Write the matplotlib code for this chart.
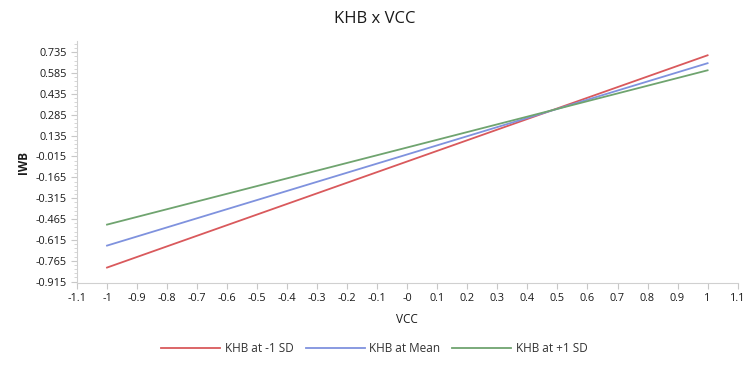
import numpy as np
import matplotlib.pyplot as plt
from matplotlib.ticker import FixedLocator

plt.rcParams['font.family'] = ['Open Sans', 'DejaVu Sans']

# Data (simple slopes of IWB on VCC)
vcc = np.array([-1.0, 1.0])
iwb_low = np.array([-0.814, 0.713])
iwb_mean = np.array([-0.656, 0.656])
iwb_high = np.array([-0.505, 0.605])
labels = ["KHB at -1 SD", "KHB at Mean", "KHB at +1 SD"]
colors = ["#d9595c", "#7f92de", "#6fa46f"]

xticks = np.round(np.arange(-1.1, 1.1001, 0.1), 1)
yticks = np.round(np.arange(-0.915, 0.7351, 0.15), 3)

fig = plt.figure(figsize=(7.49, 3.71), dpi=100)
ax = fig.add_axes([0.1028, 0.2372, 0.882, 0.652])

for y, lab, c in zip([iwb_low, iwb_mean, iwb_high], labels, colors):
    ax.plot(vcc, y, color=c, lw=1.3, label=lab)

ax.set_xlim(-1.1, 1.1)
ax.set_ylim(-0.925, 0.815)
ax.xaxis.set_major_locator(FixedLocator(xticks))
ax.set_xticklabels(["-0" if abs(v) < 1e-9 else f"{v:g}" for v in xticks])
ax.yaxis.set_major_locator(FixedLocator(yticks))
ax.set_yticklabels([f"{v:.3f}" for v in yticks])
ax.yaxis.set_minor_locator(FixedLocator(np.arange(-0.915, 0.81, 0.03)))

for s in ["top", "right"]:
    ax.spines[s].set_visible(False)
for s in ["left", "bottom"]:
    ax.spines[s].set_color("#d0d0d0")
ax.tick_params(axis="both", colors="#c8c8c8", labelcolor="#1a1a1a", labelsize=7.8, length=4)
ax.tick_params(axis="y", which="minor", colors="#d0d0d0", length=2.5)

ax.set_xlabel("VCC", fontsize=8.5, color="#1a1a1a", labelpad=6)
ax.set_ylabel("IWB", fontsize=8.5, color="#1a1a1a", fontweight="bold", labelpad=4)
fig.text(0.5, 0.95, "KHB x VCC", ha="center", va="center", fontsize=12,
         color="#1a1a1a", fontweight="medium")

fig.legend(loc="center", bbox_to_anchor=(0.5, 0.06), ncol=3, frameon=False,
           fontsize=8.5, handlelength=5.0, handletextpad=0.4, columnspacing=1.0,
           labelcolor="#333333")

fig.savefig("out.png", dpi=100)
